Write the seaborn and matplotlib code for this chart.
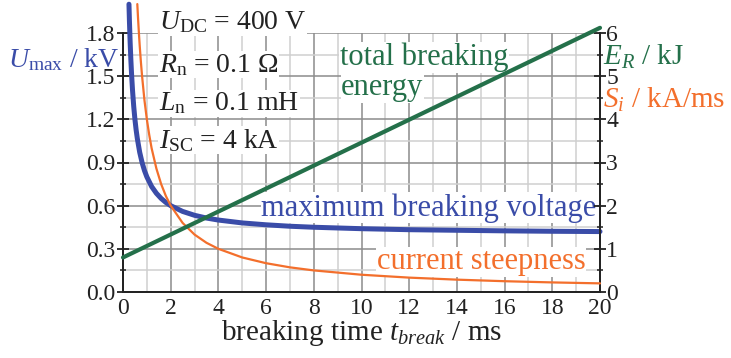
import seaborn as sns
import matplotlib.pyplot as plt
from matplotlib.ticker import MultipleLocator

# daten
t_umax = [0.25, 0.27, 0.3, 0.33, 0.36, 0.4, 0.45, 0.5, 0.55, 0.6, 0.7, 0.8, 0.9, 1.0,
          1.2, 1.4, 1.6, 1.8, 2.0, 2.5, 3.0, 3.5, 4.0, 5.0, 6.0, 7.0, 8.0, 10.0,
          12.0, 14.0, 16.0, 18.0, 20.0]
u_max = [2.0, 1.881, 1.733, 1.612, 1.511, 1.4, 1.289, 1.2, 1.127, 1.067, 0.971, 0.9,
         0.844, 0.8, 0.733, 0.686, 0.65, 0.622, 0.6, 0.56, 0.533, 0.514, 0.5, 0.48,
         0.467, 0.457, 0.45, 0.44, 0.433, 0.429, 0.425, 0.422, 0.42]

t_si = [0.6, 0.63, 0.67, 0.7, 0.75, 0.8, 0.9, 1.0, 1.1, 1.2, 1.4, 1.6, 1.8, 2.0,
        2.5, 3.0, 3.5, 4.0, 5.0, 6.0, 7.0, 8.0, 10.0, 12.0, 14.0, 16.0, 18.0, 20.0]
s_i = [6.67, 6.35, 5.97, 5.71, 5.33, 5.0, 4.44, 4.0, 3.64, 3.33, 2.86, 2.5, 2.22,
       2.0, 1.6, 1.33, 1.14, 1.0, 0.8, 0.667, 0.571, 0.5, 0.4, 0.333, 0.286, 0.25,
       0.222, 0.2]

t_er = [0.0, 20.0]
e_r = [0.8, 6.12]

params = [r"$U_{\rm DC}$ = 400 V", r"$R_{\rm n}$ = 0.1 Ω",
          r"$L_{\rm n}$ = 0.1 mH", r"$I_{\rm SC}$ = 4 kA"]

blau = "#3a4ca8"
gruen = "#24704a"
orange = "#f36f2c"

sns.set_style("white")
plt.rcParams["font.family"] = ["Liberation Serif", "DejaVu Serif"]
plt.rcParams["mathtext.fontset"] = "custom"
plt.rcParams["mathtext.rm"] = "Liberation Serif"
plt.rcParams["mathtext.it"] = "Liberation Serif:italic"

fig = plt.figure(figsize=(7.31, 3.58), dpi=100)
ax = fig.add_axes([123 / 731, 1 - 292 / 358, 477 / 731, 259 / 358])
ax2 = ax.twinx()

sns.lineplot(x=t_umax, y=u_max, ax=ax, color=blau, lw=3.6, clip_on=False, zorder=5)
sns.lineplot(x=t_er, y=e_r, ax=ax2, color=gruen, lw=3.0, clip_on=False, zorder=5)
sns.lineplot(x=t_si, y=s_i, ax=ax2, color=orange, lw=1.6, clip_on=False, zorder=4)

ax.set_xlim(0, 20)
ax.set_ylim(0, 1.8)
ax2.set_ylim(0, 6)

ax.xaxis.set_major_locator(MultipleLocator(2))
ax.xaxis.set_minor_locator(MultipleLocator(1))
ax.yaxis.set_major_locator(MultipleLocator(0.3))
ax.yaxis.set_minor_locator(MultipleLocator(0.15))
ax2.yaxis.set_major_locator(MultipleLocator(1))
ax2.yaxis.set_minor_locator(MultipleLocator(0.5))
ax.set_yticks([0.0, 0.3, 0.6, 0.9, 1.2, 1.5, 1.8])
ax.set_yticklabels(["0.0", "0.3", "0.6", "0.9", "1.2", "1.5", "1.8"])

ax.grid(True, which="major", color="#8c8c8c", lw=1.1)
ax.grid(True, which="minor", color="#cfcfcf", lw=1.1)
ax.set_axisbelow(True)
ax2.set_axisbelow(True)
ax2.patch.set_visible(False)

for a in (ax, ax2):
    a.spines["top"].set_visible(False)
    for s in ("left", "right", "bottom"):
        a.spines[s].set_color("#222222")
        a.spines[s].set_linewidth(1.3)
    a.tick_params(which="major", direction="inout", length=9, width=1.3,
                  labelsize=17, color="#222222", labelcolor="#222222", pad=1)
    a.tick_params(which="minor", direction="inout", length=5, width=1.1, color="#222222")
ax.tick_params(axis="x", pad=0)
ax2.tick_params(axis="y", pad=0)

ax.set_xlabel(r"breaking time $t_{break}$ / ms", fontsize=21, color="#222222", labelpad=-1)

box = dict(facecolor="white", edgecolor="none", pad=0.5)
ys = [1.875, 1.58, 1.31, 1.055]
for txt, y in zip(params, ys):
    ax.text(1.5, y, txt, fontsize=20, color="#222222", va="center", ha="left",
            bbox=box, zorder=6, clip_on=False)

ax.text(9.1, 1.63, "total breaking", fontsize=22, color=gruen, va="center", bbox=box, zorder=3)
ax.text(9.15, 1.42, "energy", fontsize=22, color=gruen, va="center", bbox=box, zorder=3)
ax.text(19.85, 0.585, "maximum breaking voltage", fontsize=22, color=blau, ha="right",
        va="center", bbox=box, zorder=3)
ax.text(19.4, 0.21, "current steepness", fontsize=22, color=orange, ha="right",
        va="center", bbox=box, zorder=3)

fig.text(8 / 731, 1 - 60 / 358, r"$U_{\rm max}$ / kV", fontsize=20, color=blau, va="center")
fig.text(603 / 731, 1 - 57 / 358, r"$E_R$ / kJ", fontsize=21, color=gruen, va="center")
fig.text(603 / 731, 1 - 100 / 358, r"$S_i$ / kA/ms", fontsize=21, color=orange, va="center")

fig.savefig("out.png", dpi=100)
